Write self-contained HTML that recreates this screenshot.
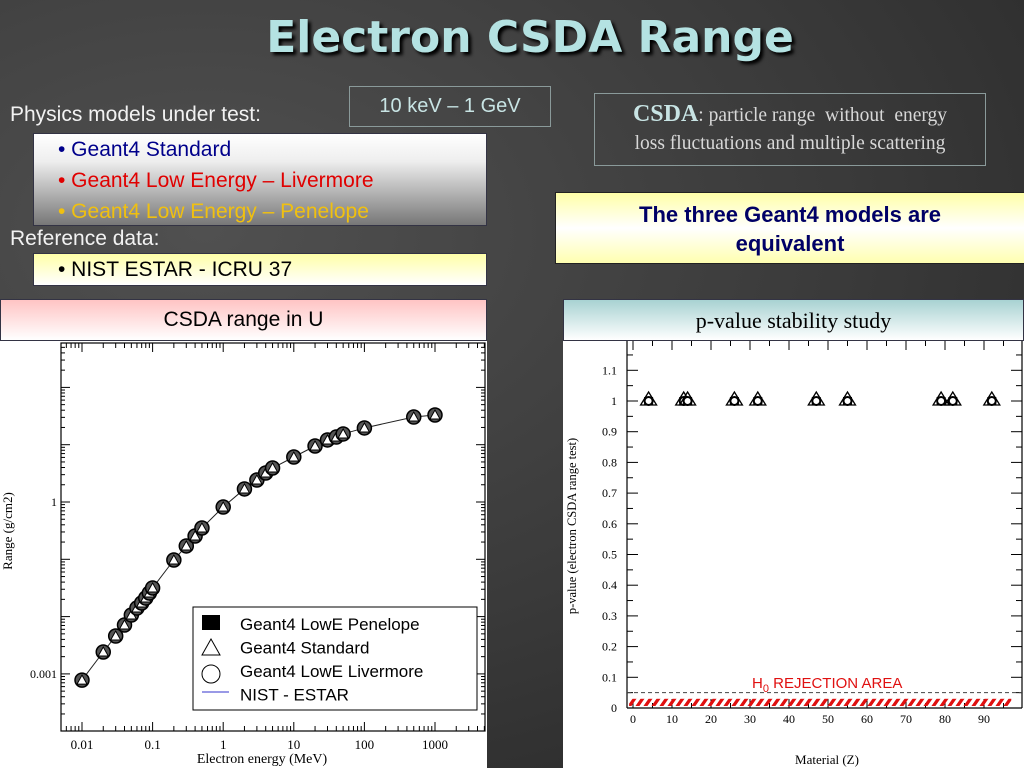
<!DOCTYPE html>
<html><head><meta charset="utf-8"><style>
body{margin:0;width:1024px;height:768px;overflow:hidden;font-family:"Liberation Sans",sans-serif;background:radial-gradient(ellipse at 20% 30%,#505050 0%,#3a3a3a 55%,#262626 100%);position:relative}
.abs{position:absolute;box-sizing:border-box}
</style></head><body>
<div class="abs" style="left:0;top:12px;width:1060px;text-align:center;font-family:'DejaVu Sans',sans-serif;font-weight:bold;font-size:44px;color:#b4e2e2;text-shadow:3px 3px 3px #000">Electron CSDA Range</div>
<div class="abs" style="left:10px;top:103px;font-size:21px;color:#f2f2f2">Physics models under test:</div>
<div class="abs" style="left:349px;top:86px;width:202px;height:41px;border:1px solid #8a9a9a;color:#c8e4e4;font-size:20px;text-align:center;line-height:38px">10 keV – 1 GeV</div>
<div class="abs" style="left:33px;top:133px;width:454px;height:93px;border:1px solid #334;background:linear-gradient(#fff 0%,#eee 30%,#777 100%);font-size:21px;line-height:31px;padding:-1px 0 0 24px;padding-left:24px">
<div style="color:#00008b">• Geant4 Standard</div>
<div style="color:#e00000">• Geant4 Low Energy – Livermore</div>
<div style="color:#f0c010">• Geant4 Low Energy – Penelope</div>
</div>
<div class="abs" style="left:10px;top:227px;font-size:21px;color:#f2f2f2">Reference data:</div>
<div class="abs" style="left:33px;top:253px;width:454px;height:33px;border:1px solid #334;background:linear-gradient(#ffffa8,#fff);font-size:21px;line-height:31px;padding-left:24px;color:#000">• NIST ESTAR - ICRU 37</div>
<div class="abs" style="left:0;top:299px;width:487px;height:42px;border:1px solid #334;background:linear-gradient(#ffc4c4,#fff);font-size:21px;line-height:40px;text-align:center;color:#000">CSDA range in U</div>
<div class="abs" style="left:594px;top:93px;width:392px;height:73px;border:1px solid #8a9a9a;font-family:'Liberation Serif',serif;font-size:19.5px;color:#d8d8d8;text-align:center;line-height:28px;padding-top:6px"><b style="color:#c8e4e4;font-size:24px">CSDA</b>: particle range&nbsp; without&nbsp; energy<br>loss fluctuations and multiple scattering</div>
<div class="abs" style="left:555px;top:192px;width:470px;height:72px;border:1px solid #222;background:linear-gradient(#ffffa8,#fff 50%,#ffffb0);font-weight:bold;font-size:22px;color:#000066;text-align:center;line-height:29px;padding-top:7px">The three Geant4 models are<br>equivalent</div>
<div class="abs" style="left:563px;top:299px;width:461px;height:42px;border:1px solid #334;background:linear-gradient(#a8d2d2,#fff);font-family:'Liberation Serif',serif;font-size:22px;line-height:42px;text-align:center;color:#000">p-value stability study</div>

<svg class="abs" style="left:0;top:341px" width="487" height="427" id="c1"></svg>
<svg class="abs" style="left:563px;top:341px" width="461" height="427" id="c2"></svg>

<script>
const energies=[0.01,0.02,0.03,0.04,0.05,0.06,0.07,0.08,0.09,0.1,0.2,0.3,0.4,0.5,1,2,3,4,5,10,20,30,40,50,100,500,1000];
const ranges=[7.8e-4,2.41e-3,4.58e-3,7.13e-3,0.01067,0.0141,0.01726,0.0211,0.0258,0.0316,0.0972,0.171,0.255,0.352,0.818,1.69,2.42,3.21,3.92,6.10,9.49,12.1,13.6,15.4,19.6,30.4,33.0];
const xTickLabels=["0.01","0.1","1","10","100","1000"];
const yTickLabels=["0.001","1"];
const materialZ=[4,13,14,26,32,47,55,79,82,92];
const pStandard=[1,1,1,1,1,1,1,1,1,1];
const pLivermore=[1,1,1,1,1,1,1,1,1,1];
const pPenelope=[1,1,1,1,1,1,1,1,1,1];
const pTickLabels=["0","0.1","0.2","0.3","0.4","0.5","0.6","0.7","0.8","0.9","1","1.1"];
const zTickLabels=["0","10","20","30","40","50","60","70","80","90"];
const alpha=0.05;
const NS="http://www.w3.org/2000/svg";
function mk(p,t,a,txt){const e=document.createElementNS(NS,t);for(const k in a)e.setAttribute(k,a[k]);if(txt!==undefined)e.textContent=txt;p.appendChild(e);return e;}

// chart 1 (offset top 341)
const c1=document.getElementById('c1');
mk(c1,'rect',{x:0,y:0,width:487,height:427,fill:'#fff'});
const L=61,R=485,T=2,B=390;
const xl=v=>82+(Math.log10(v)+2)*70.6;
const yl=v=>161-Math.log10(v)*57.3;
mk(c1,'rect',{x:L,y:T,width:R-L,height:B-T,fill:'none',stroke:'#000','stroke-width':1.2});
for(let d=-3;d<=3;d++){for(let m=1;m<10;m++){const v=m*Math.pow(10,d);const x=xl(v);if(x<L||x>R)continue;const len=m==1?9:5;
 mk(c1,'line',{x1:x,y1:B,x2:x,y2:B-len,stroke:'#000'});mk(c1,'line',{x1:x,y1:T,x2:x,y2:T+len,stroke:'#000'});}}
for(let d=-5;d<=3;d++){for(let m=1;m<10;m++){const v=m*Math.pow(10,d);const y=yl(v);if(y<T||y>B)continue;const len=m==1?9:4;
 mk(c1,'line',{x1:L,y1:y,x2:L+len,y2:y,stroke:'#000'});mk(c1,'line',{x1:R,y1:y,x2:R-len,y2:y,stroke:'#000'});}}
xTickLabels.forEach(s=>{const t=mk(c1,'text',{x:xl(parseFloat(s)),y:B+18,'text-anchor':'middle','font-family':'Liberation Serif, serif','font-size':13},s);});
yTickLabels.forEach(s=>{const t=mk(c1,'text',{x:L-4,y:yl(parseFloat(s))+4,'text-anchor':'end','font-family':'Liberation Serif, serif','font-size':12},s);});
const xt=mk(c1,'text',{x:262,y:422,'text-anchor':'middle','font-family':'Liberation Serif, serif','font-size':14},'Electron energy (MeV)');

const yt=mk(c1,'text',{x:0,y:0,transform:'translate(12,190) rotate(-90)','text-anchor':'middle','font-family':'Liberation Serif, serif','font-size':13},'Range (g/cm2)');

const nist=mk(c1,'polyline',{points:energies.map((e,i)=>xl(e)+','+yl(ranges[i])).join(' '),fill:'none',stroke:'#222','stroke-width':1});

energies.forEach((e,i)=>{const x=xl(e),y=yl(ranges[i]);
 const c=mk(c1,'circle',{cx:x,cy:y,r:7,fill:'#555',stroke:'#000','stroke-width':1.5});
 
 const p=mk(c1,'polygon',{points:`${x},${y-5} ${x-5},${y+4} ${x+5},${y+4}`,fill:'#fff',stroke:'#000','stroke-width':1});
 });
const lg=mk(c1,'g',{});
mk(lg,'rect',{x:193,y:266,width:284,height:103,fill:'#fff',stroke:'#000'});
mk(lg,'rect',{x:202,y:274,width:18,height:15,fill:'#000'});
mk(lg,'polygon',{points:'211,298 202,314 220,314',fill:'#fff',stroke:'#000'});
mk(lg,'circle',{cx:211,cy:333,r:9,fill:'#fff',stroke:'#000'});
mk(lg,'line',{x1:202,y1:351,x2:229,y2:351,stroke:'#33c','stroke-width':1});
['Geant4 LowE Penelope','Geant4 Standard','Geant4 LowE Livermore','NIST - ESTAR'].forEach((s,i)=>{const t=mk(lg,'text',{x:240,y:289+i*23.5,'font-size':17},s);});

// chart 2 (offset left 563, top 341)
const c2=document.getElementById('c2');
mk(c2,'rect',{x:0,y:0,width:461,height:427,fill:'#fff'});
const L2=64,R2=459,T2=0,B2=367;
const xz=v=>70+v*3.9;
const yp=v=>367-v*307;
mk(c2,'line',{x1:L2,y1:T2,x2:L2,y2:B2,stroke:'#000','stroke-width':1.2});
mk(c2,'line',{x1:R2,y1:T2,x2:R2,y2:B2,stroke:'#000','stroke-width':1.2});
mk(c2,'line',{x1:L2,y1:B2,x2:R2,y2:B2,stroke:'#000','stroke-width':1.2});
for(let i=0;i<=23;i++){const v=i*0.05,y=yp(v);const len=i%2==0?11:6;
 mk(c2,'line',{x1:L2,y1:y,x2:L2+len,y2:y,stroke:'#000'});mk(c2,'line',{x1:R2,y1:y,x2:R2-len,y2:y,stroke:'#000'});}
for(let i=0;i<=19;i++){const x=xz(i*5);const len=i%2==0?9:5;
 mk(c2,'line',{x1:x,y1:T2,x2:x,y2:T2+len,stroke:'#000'});mk(c2,'line',{x1:x,y1:B2,x2:x,y2:B2-len,stroke:'#000'});}
pTickLabels.forEach(s=>{const t=mk(c2,'text',{x:L2-10,y:yp(parseFloat(s))+4,'text-anchor':'end','font-family':'Liberation Serif, serif','font-size':12},s);});
zTickLabels.forEach(s=>{const t=mk(c2,'text',{x:xz(parseFloat(s)),y:B2+15,'text-anchor':'middle','font-family':'Liberation Serif, serif','font-size':12},s);});
const xt2=mk(c2,'text',{x:264,y:423,'text-anchor':'middle','font-family':'Liberation Serif, serif','font-size':13},'Material (Z)');

const yt2=mk(c2,'text',{x:0,y:0,transform:'translate(13,185) rotate(-90)','text-anchor':'middle','font-family':'Liberation Serif, serif','font-size':12.5},'p-value (electron CSDA range test)');

const defs=mk(c2,'defs',{});const pat=mk(defs,'pattern',{id:'hatch',width:8,height:12,patternUnits:'userSpaceOnUse',patternTransform:'skewX(-35)'});
mk(pat,'rect',{x:0,y:0,width:4,height:12,fill:'#e01010'});
const hz=mk(c2,'rect',{x:xz(-1),y:yp(0.03),width:xz(97)-xz(-1),height:yp(0)-yp(0.03)-2,fill:'url(#hatch)'});

const dl=mk(c2,'line',{x1:L2,y1:yp(alpha),x2:R2,y2:yp(alpha),stroke:'#444','stroke-dasharray':'4,3'});

const rl=mk(c2,'text',{x:189,y:347,'font-size':15,fill:'#e01010'});
rl.innerHTML='H<tspan font-size="11" dy="4">0</tspan><tspan dy="-4"> REJECTION AREA</tspan>';
materialZ.forEach((z,i)=>{const x=xz(z);
 const ys=yp(pStandard[i]);const t=mk(c2,'polygon',{points:`${x},${ys-9} ${x-8},${ys+4} ${x+8},${ys+4}`,fill:'none',stroke:'#000','stroke-width':1.3});
 
 const yq=yp(pPenelope[i]);const s=mk(c2,'rect',{x:x-4.5,y:yq-4,width:9,height:8,fill:'#000'});
 
 const yc=yp(pLivermore[i]);const c=mk(c2,'circle',{cx:x,cy:yc,r:4,fill:'#fff',stroke:'#000','stroke-width':2});
 });
</script>
</body></html>
